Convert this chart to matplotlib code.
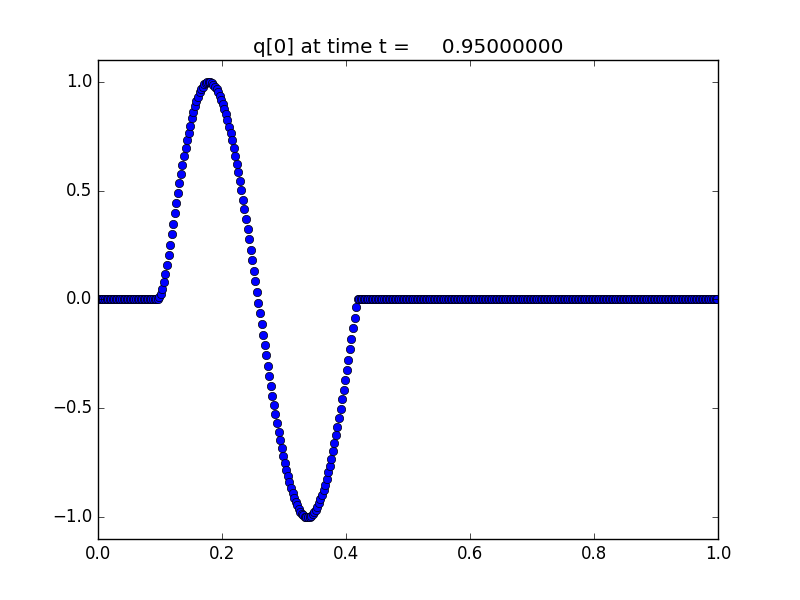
import numpy as np
import matplotlib
matplotlib.use("Agg")
import matplotlib.pyplot as plt

# --- data: q[0] on a 400-cell grid, cell centres on [0, 1] ---
n_cells = 400
left_zeros = [0.0] * 38          # cells 0..37
pulse = [
    # rising edge, cells 38..71
    0.002, 0.010, 0.025, 0.048, 0.080, 0.118, 0.160, 0.205, 0.252, 0.300,
    0.348, 0.396, 0.443, 0.489, 0.534, 0.577, 0.619, 0.659, 0.697, 0.733,
    0.767, 0.799, 0.835, 0.862, 0.887, 0.910, 0.932, 0.951, 0.966, 0.978,
    0.988, 0.995, 0.999, 1.000,
    # cells 72..166
    0.998, 0.994, 0.987, 0.978, 0.966, 0.953, 0.936, 0.918, 0.898, 0.875,
    0.850, 0.823, 0.794, 0.764, 0.731, 0.697, 0.661, 0.624, 0.585, 0.544,
    0.501, 0.458, 0.414, 0.369, 0.323, 0.276, 0.229, 0.181, 0.132, 0.083,
    0.034, -0.015, -0.064, -0.113, -0.161, -0.210, -0.257, -0.304, -0.351, -0.396,
    -0.441, -0.484, -0.527, -0.568, -0.607, -0.645, -0.682, -0.717, -0.751, -0.782,
    -0.812, -0.839, -0.865, -0.889, -0.910, -0.929, -0.946, -0.961, -0.974, -0.984,
    -0.991, -0.997, -0.999, -1.000, -0.998, -0.994, -0.987, -0.978, -0.966, -0.953,
    -0.936, -0.918, -0.898, -0.875, -0.850, -0.823, -0.794, -0.764, -0.731, -0.697,
    -0.661, -0.624, -0.585, -0.544, -0.501, -0.458, -0.414, -0.369, -0.323, -0.276,
    -0.229, -0.181, -0.132, -0.083, -0.034,
]
right_zeros = [0.0] * (n_cells - len(left_zeros) - len(pulse))

q0 = np.array(left_zeros + pulse + right_zeros)
dx = 1.0 / n_cells
xc = (np.arange(n_cells) + 0.5) * dx

title = "q[0] at time t =     0.95000000"
xticks = [0.0, 0.2, 0.4, 0.6, 0.8, 1.0]
yticks = [-1.0, -0.5, 0.0, 0.5, 1.0]

# --- plot, old-style clawpack look ---
plt.style.use("classic")
plt.rcParams["font.family"] = ["DejaVu Sans"]

fig = plt.figure(figsize=(8, 6), dpi=100, facecolor="white")
fig.subplots_adjust(left=0.1225, right=0.8975, top=0.9, bottom=0.1017)
ax = fig.add_subplot(111)
ax.plot(xc, q0, "bo", markersize=6, markeredgewidth=0.5, markeredgecolor="black")

ax.set_xlim(0, 1)
ax.set_ylim(-1.1, 1.1)
ax.set_xticks(xticks)
ax.set_yticks(yticks)
ax.set_title(title)

fig.savefig("out.png", dpi=100, facecolor="white")
